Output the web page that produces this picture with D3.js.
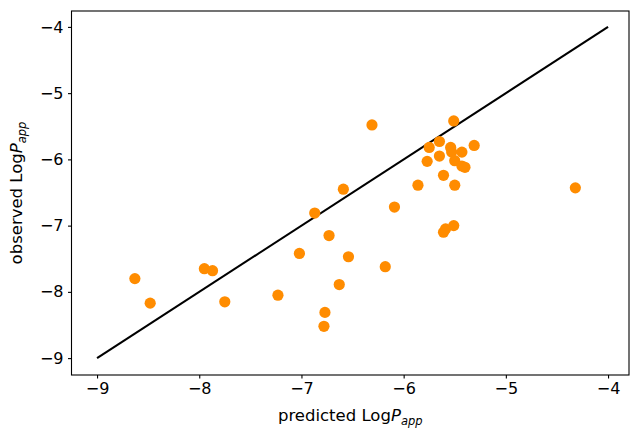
<!DOCTYPE html>
<html>
<head>
<meta charset="utf-8">
<script src="https://cdn.jsdelivr.net/npm/d3@7"></script>
<style>
  body { margin: 0; background: #fff; }
  svg { font-family: "DejaVu Sans", sans-serif; }
</style>
</head>
<body>
<svg id="chart" width="630" height="430"></svg>
<script>
const predicted = [-6.31, -5.51, -5.65, -5.75, -5.54, -5.31, -5.53, -5.43, -5.65, -5.77,
                   -5.50, -5.43, -5.40, -5.61, -5.86, -5.50, -4.32, -6.59,
                   -6.87, -6.73, -7.02, -6.54, -7.95, -7.87, -8.63, -6.63, -7.23, -8.48,
                   -7.75, -6.77, -6.78, -6.09, -5.61, -5.59, -5.51, -6.18];
const observed  = [-5.48, -5.42, -5.73, -5.82, -5.82, -5.79, -5.89, -5.89, -5.95, -6.03,
                   -6.02, -6.10, -6.12, -6.24, -6.39, -6.39, -6.43, -6.45,
                   -6.81, -7.15, -7.42, -7.47, -7.65, -7.68, -7.80, -7.89, -8.05, -8.17,
                   -8.15, -8.31, -8.52, -6.72, -7.10, -7.05, -7.00, -7.62];
const lineX = [-9, -4];
const lineY = [-9, -4];
const xTicks = [-9, -8, -7, -6, -5, -4];
const yTicks = [-9, -8, -7, -6, -5, -4];

const points = predicted.map((p, i) => ({ x: p, y: observed[i] }));

const mLeft = 71.5, mRight = 629, mTop = 11, mBottom = 375;
const svg = d3.select('#chart');

var x = d3.scaleLinear().domain([-9.25, -3.795]).range([mLeft, mRight]);
var y = d3.scaleLinear().domain([-9.255, -3.76]).range([mBottom, mTop]);

const fmt = d => d3.format('d')(d).replace('-', '\u2212');

// identity line
svg.append('path')
    .datum(lineX.map((v, i) => [v, lineY[i]]))
    .attr('d', d3.line().x(d => x(d[0])).y(d => y(d[1])))
    .attr('stroke', '#000')
    .attr('stroke-width', 2.1)
    .attr('fill', 'none');

// scatter
svg.append('g')
    .selectAll('circle').data(points).enter().append('circle')
    .attr('cx', d => x(d.x))
    .attr('cy', d => y(d.y))
    .attr('r', 5.6)
    .attr('fill', '#ff8c00');

// axes
const xAxis = svg.append('g')
    .attr('transform', 'translate(0,' + mBottom + ')')
    .call(d3.axisBottom(x).tickValues(xTicks).tickFormat(fmt).tickSize(3.5).tickPadding(4.5));
const yAxis = svg.append('g')
    .attr('transform', 'translate(' + mLeft + ',0)')
    .call(d3.axisLeft(y).tickValues(yTicks).tickFormat(fmt).tickSize(3.5).tickPadding(4.5));

[xAxis, yAxis].forEach(a => {
    a.select('.domain').remove();
    a.selectAll('line').attr('stroke', '#000').attr('stroke-width', 1.1);
    a.selectAll('text').attr('font-size', 16).attr('fill', '#000')
        .attr('font-family', '"DejaVu Sans", sans-serif');
});

// frame
svg.append('rect')
    .attr('x', mLeft).attr('y', mTop)
    .attr('width', mRight - mLeft).attr('height', mBottom - mTop)
    .attr('fill', 'none').attr('stroke', '#000').attr('stroke-width', 1.1);

// axis labels
function label(sel, prefix) {
    sel.append('tspan').text(prefix + ' Log');
    sel.append('tspan').attr('font-style', 'italic').text('P');
    sel.append('tspan').attr('font-style', 'italic').attr('font-size', 11.5)
        .attr('dy', 4).text('app');
}

const xl = svg.append('text')
    .attr('x', (mLeft + mRight) / 2).attr('y', 421)
    .attr('text-anchor', 'middle').attr('font-size', 16.5).attr('fill', '#000');
label(xl, 'predicted');

const yl = svg.append('text')
    .attr('transform', 'translate(22,' + (mTop + mBottom) / 2 + ') rotate(-90)')
    .attr('text-anchor', 'middle').attr('font-size', 16.5).attr('fill', '#000');
label(yl, 'observed');
</script>
</body>
</html>
